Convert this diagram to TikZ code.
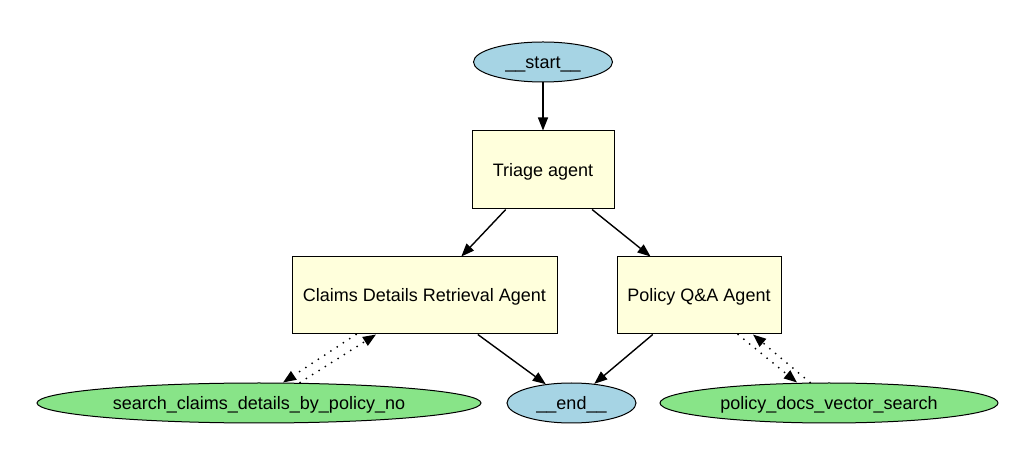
\documentclass[tikz,border=0pt]{standalone}
\usepackage{fontspec}
\setmainfont{Liberation Sans}
\usetikzlibrary{shapes.geometric,arrows.meta,calc}
\definecolor{lblue}{HTML}{A6D4E4}
\definecolor{lgreen}{HTML}{88E488}
\definecolor{lyellow}{HTML}{FFFFDC}
\tikzset{
  x=1pt,y=1pt,
  every node/.style={font=\fontsize{18}{20}\selectfont, inner sep=0pt, text height=13pt, text depth=0pt},
  termnode/.style={ellipse, draw, line width=1pt, fill=lblue, minimum width=#1, minimum height=40pt},
  toolnode/.style={ellipse, draw, line width=1pt, fill=lgreen, minimum width=#1, minimum height=40pt},
  agentbox/.style={rectangle, draw, line width=1pt, fill=lyellow, minimum width=#1, minimum height=77pt},
  flow/.style={line width=1.4pt, -{Triangle[length=13pt,width=10pt]}},
  toolflow/.style={line width=2pt, line cap=round, dash pattern=on 0pt off 7.5pt, -{Triangle[length=13pt,width=10pt]}}
}
\begin{document}
\begin{tikzpicture}
\useasboundingbox (0,0) rectangle (1030,452);
\node[termnode=139pt] (start) at (543,390) {\_\_start\_\_};
\node[agentbox=142pt, minimum height=78pt] (triage) at (543,282) {Triage agent};
\node[agentbox=265pt] (claims) at (424.5,156.5) {Claims Details Retrieval Agent};
\node[agentbox=164pt] (policy) at (699,156.5) {Policy Q\&A Agent};
\node[toolnode=444pt] (search) at (259,49) {search\_claims\_details\_by\_policy\_no};
\node[termnode=129pt] (end) at (571.5,49) {\_\_end\_\_};
\node[toolnode=338pt] (pdocs) at (829,49) {policy\_docs\_vector\_search};

\draw[flow] (start) -- (triage);
\draw[flow] (triage) -- (claims);
\draw[flow] (triage) -- (policy);
\draw[flow] (claims) -- (end);
\draw[flow] (policy) -- (end);

\draw[toolflow] ($(claims.south)+(-68.5,0)$) -- ($(search.north)+(24,0)$);
\draw[toolflow] ($(search.north)+(41,0)$) -- ($(claims.south)+(-48.5,0)$);
\draw[toolflow] ($(policy.south)+(39,0)$) -- ($(pdocs.north)+(-32,0)$);
\draw[toolflow] ($(pdocs.north)+(-19,0)$) -- ($(policy.south)+(54,0)$);
\end{tikzpicture}
\end{document}
